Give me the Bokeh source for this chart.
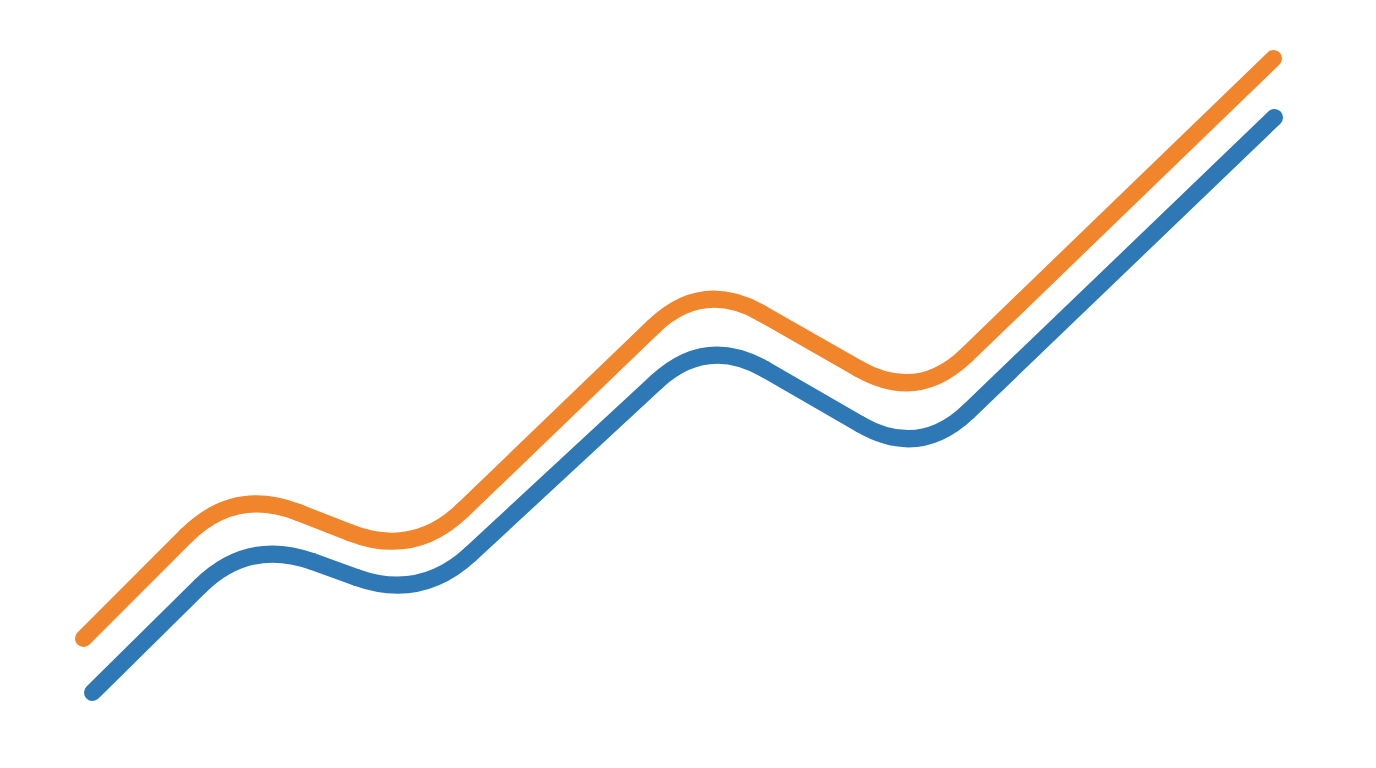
import numpy as np
from bokeh.plotting import figure
from bokeh.models import Range1d
from bokeh.embed import file_html
from bokeh.resources import INLINE

# Series vertices (data units); the lines are drawn as straight runs with rounded corners
orange_x = [83, 234, 413, 702, 917, 1273]
orange_y = [130, 281, 211, 489, 366, 710]
blue_x = [92, 248, 420, 706, 919, 1274]
blue_y = [76, 230, 168, 433, 310, 651]

ORANGE = "#F0852C"
BLUE = "#2E78B6"
LINE_W = 17
CORNER = 68  # tangent length of the rounded corners (data units == px here)

p = figure(width=1360, height=752, output_backend="svg", toolbar_location=None,
           x_range=Range1d(0, 1360), y_range=Range1d(16, 768), min_border=0)
p.axis.visible = False
p.grid.visible = False
p.outline_line_color = None
p.background_fill_color = "white"
p.border_fill_color = "white"


def rounded(xs, ys, color):
    pts = np.column_stack([xs, ys]).astype(float)
    n = len(pts)
    seg_x0, seg_y0, seg_x1, seg_y1 = [], [], [], []
    qx0, qy0, qx1, qy1, qcx, qcy = [], [], [], [], [], []
    start = pts[0]
    for i in range(1, n - 1):
        v = pts[i]
        u1 = pts[i - 1] - v
        u2 = pts[i + 1] - v
        u1 /= np.linalg.norm(u1)
        u2 /= np.linalg.norm(u2)
        a = v + CORNER * u1
        b = v + CORNER * u2
        seg_x0.append(start[0]); seg_y0.append(start[1])
        seg_x1.append(a[0]); seg_y1.append(a[1])
        qx0.append(a[0]); qy0.append(a[1]); qx1.append(b[0]); qy1.append(b[1])
        qcx.append(v[0]); qcy.append(v[1])
        start = b
    seg_x0.append(start[0]); seg_y0.append(start[1])
    seg_x1.append(pts[-1][0]); seg_y1.append(pts[-1][1])
    p.segment(x0=seg_x0, y0=seg_y0, x1=seg_x1, y1=seg_y1, line_color=color,
              line_width=LINE_W, line_cap="round")
    p.quadratic(x0=qx0, y0=qy0, x1=qx1, y1=qy1, cx=qcx, cy=qcy, line_color=color,
                line_width=LINE_W, line_cap="round")


rounded(orange_x, orange_y, ORANGE)
rounded(blue_x, blue_y, BLUE)

open("out.html", "w").write(file_html(p, INLINE))
